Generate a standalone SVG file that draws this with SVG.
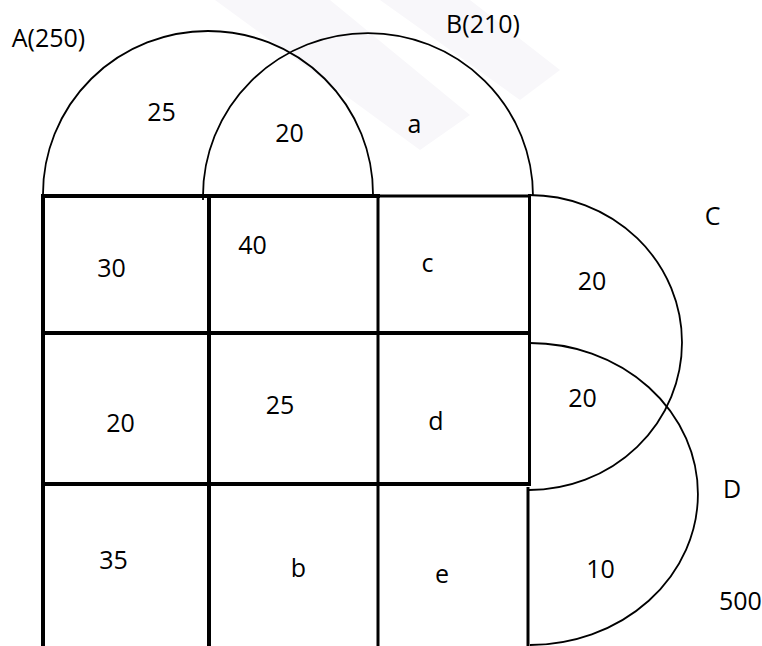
<svg xmlns="http://www.w3.org/2000/svg" width="762" height="646" viewBox="0 0 762 646">
<style>
.t{font-family:"Open Sans","Liberation Sans",sans-serif;font-size:25px;fill:#000;text-anchor:middle}
.g4{stroke:#000;stroke-width:4;fill:none}
.g3{stroke:#000;stroke-width:3;fill:none}
.arc{stroke:#000;stroke-width:1.8;fill:none}
</style>
<rect width="762" height="646" fill="#fff"/>
<g id="watermark" fill="#f8f7fa">
<path d="M215,0 L330,0 L470,115 L420,150 Z"/>
<path d="M380,0 L470,0 L560,70 L520,100 Z"/>
</g>
<g id="connectors">
<path id="arcA" class="arc" d="M43,194 A165,163 0 0 1 373,194"/>
<path id="arcB" class="arc" d="M203,200 L203,196 A165,163 0 0 1 533,196"/>
<path id="arcC" class="arc" d="M529,195 A153,147.5 0 0 1 529,490"/>
<path id="arcD" class="arc" d="M530,343 A168,151 0 0 1 530,645"/>
</g>
<g id="grid">
<line class="g4" x1="41" y1="196" x2="380" y2="196"/>
<line class="g3" x1="378" y1="196" x2="531" y2="196"/>
<line class="g4" x1="41" y1="333" x2="531" y2="333"/>
<line class="g4" x1="41" y1="484" x2="531" y2="484"/>
<line class="g4" x1="43" y1="194" x2="43" y2="646"/>
<line class="g4" x1="209" y1="194" x2="209" y2="646"/>
<line class="g3" x1="378" y1="194" x2="378" y2="646"/>
<line class="g3" x1="529.5" y1="194" x2="529.5" y2="485"/>
<line class="g3" x1="528" y1="487" x2="528" y2="646"/>
</g>
<g id="labels">
<text class="t" x="48.5" y="47">A(250)</text>
<text class="t" x="483" y="33">B(210)</text>
<text class="t" x="712.5" y="225">C</text>
<text class="t" x="732" y="498">D</text>
<text class="t" x="719" y="610" style="text-anchor:start">500</text>
</g>
<g id="regions">
<text class="t" x="161.5" y="121">25</text>
<text class="t" x="289.5" y="142">20</text>
<text class="t" x="414.5" y="133">a</text>
<text class="t" x="111.5" y="277">30</text>
<text class="t" x="252.5" y="254">40</text>
<text class="t" x="427.5" y="272">c</text>
<text class="t" x="592" y="290">20</text>
<text class="t" x="120.5" y="432">20</text>
<text class="t" x="280" y="414">25</text>
<text class="t" x="436" y="430">d</text>
<text class="t" x="582.5" y="407">20</text>
<text class="t" x="113.5" y="569">35</text>
<text class="t" x="298.5" y="577">b</text>
<text class="t" x="442" y="583">e</text>
<text class="t" x="600.5" y="578">10</text>
</g>
</svg>
